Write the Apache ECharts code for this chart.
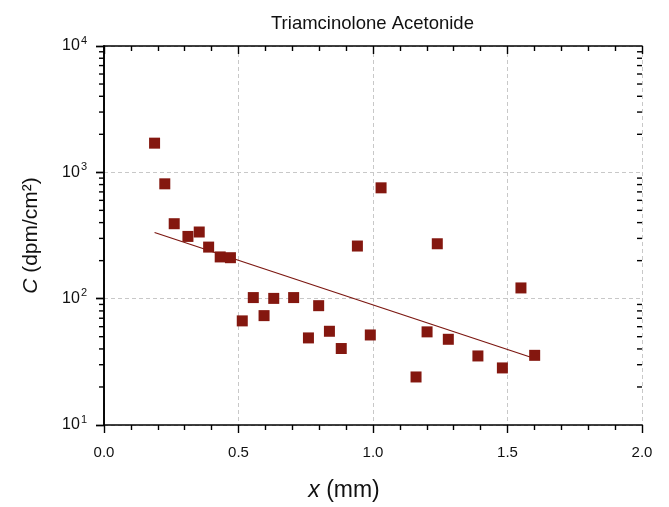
<!DOCTYPE html>
<html>
<head>
<meta charset="utf-8">
<script src="https://cdn.jsdelivr.net/npm/echarts@6/dist/echarts.min.js"></script>
<style>html,body{margin:0;padding:0;background:#fff}#c{width:669px;height:507px}</style>
</head>
<body>
<div id="c"></div>
<script>
// Data
var xVals = [0.188,0.226,0.261,0.312,0.354,0.389,0.432,0.470,0.514,0.555,0.595,0.631,0.705,0.760,0.798,0.838,0.882,0.942,0.990,1.030,1.160,1.201,1.239,1.280,1.390,1.481,1.550,1.601];
var yVals = [1702,811,392,311,337,256,214,211,66.7,102,73.4,100.5,102,48.9,88,55.2,40.3,261,51.6,754,24.0,54.6,272,47.7,35.2,28.3,121.6,35.6];
var fitX = [0.188, 1.601];
var fitY = [334, 33.6];
var xTicks = [0, 0.5, 1.0, 1.5, 2.0];
var yTicks = [10, 100, 1000, 10000];
var yMinor = [20,30,40,50,60,70,80,90,200,300,400,500,600,700,800,900,2000,3000,4000,5000,6000,7000,8000,9000];

var FONT = 'Liberation Sans, Arial, Helvetica, sans-serif';
var pts = xVals.map(function (x, i) { return [x, yVals[i]]; });
var fit = fitX.map(function (x, i) { return [x, fitY[i]]; });

var chart = echarts.init(document.getElementById('c'), null, {renderer: 'canvas'});
var axisLine = {show: true, lineStyle: {color: '#000', width: 1.6}};
var option = {
  animation: false,
  backgroundColor: '#fff',
  title: {
    text: 'Triamcinolone Acetonide',
    left: 266, top: 9,
    textStyle: {fontFamily: FONT, fontSize: 18.5, fontWeight: 'normal', color: '#111'}
  },
  grid: {left: 104, right: 27, top: 46, bottom: 81.5, containLabel: false},
  xAxis: [{
    type: 'value', min: xTicks[0], max: xTicks[xTicks.length - 1], interval: 0.5,
    position: 'bottom',
    axisLine: axisLine,
    axisTick: {show: true, length: 8, inside: false, lineStyle: {color: '#000', width: 1.4}},
    minorTick: {show: true, splitNumber: 5, length: 5, lineStyle: {color: '#000', width: 1.4}},
    splitLine: {show: true, lineStyle: {color: '#c8c8c8', type: [4, 3], width: 1}},
    axisLabel: {margin: 20, fontFamily: FONT, fontSize: 15, color: '#111',
      formatter: function (v) { return v.toFixed(1); }},
    name: '{i|x} (mm)', nameLocation: 'middle', nameGap: 54,
    nameTextStyle: {fontFamily: FONT, fontSize: 23, color: '#111', padding: [0, 58, 0, 0],
      rich: {i: {fontFamily: FONT, fontSize: 23, fontStyle: 'italic', color: '#111'}}}
  }, {
    type: 'value', min: xTicks[0], max: xTicks[xTicks.length - 1], interval: 0.5,
    position: 'top',
    axisLine: axisLine,
    axisTick: {show: true, length: 8, inside: true, lineStyle: {color: '#000', width: 1.4}},
    minorTick: {show: true, splitNumber: 5, length: 5, lineStyle: {color: '#000', width: 1.4}},
    splitLine: {show: false},
    axisLabel: {show: false}
  }],
  yAxis: [{
    type: 'log', logBase: 10, min: yTicks[0], max: yTicks[yTicks.length - 1],
    position: 'left',
    axisLine: axisLine,
    axisTick: {show: true, length: 8, inside: false, lineStyle: {color: '#000', width: 1.4}},
    splitLine: {show: true, lineStyle: {color: '#c8c8c8', type: [4, 3], width: 1}},
    axisLabel: {margin: 17, fontFamily: FONT, color: '#111',
      formatter: function (v) { return '{b|10}{s|' + Math.round(Math.log10(v)) + '}'; },
      rich: {
        b: {fontFamily: FONT, fontSize: 16, color: '#111', lineHeight: 22, verticalAlign: 'middle'},
        s: {fontFamily: FONT, fontSize: 11, color: '#111', lineHeight: 11, verticalAlign: 'top', padding: [0, 0, 0, 1]}
      }},
    name: '{i|C} (dpm/cm²)', nameLocation: 'middle', nameGap: 62, nameRotate: 90,
    nameTextStyle: {fontFamily: FONT, fontSize: 21, color: '#111',
      rich: {i: {fontFamily: FONT, fontSize: 21, fontStyle: 'italic', color: '#111'}}}
  }, {
    type: 'log', logBase: 10, min: yTicks[0], max: yTicks[yTicks.length - 1],
    position: 'right',
    axisLine: axisLine,
    axisTick: {show: true, length: 8, inside: true, lineStyle: {color: '#000', width: 1.4}},
    splitLine: {show: false},
    axisLabel: {show: false}
  }],
  series: [{
    type: 'custom',
    xAxisIndex: 0, yAxisIndex: 0,
    clip: false, silent: true, z: 5,
    data: yMinor.map(function (v) { return [0, v]; }),
    renderItem: function (params, api) {
      var v = api.value(1);
      var l = api.coord([xTicks[0], v]);
      var r = api.coord([xTicks[xTicks.length - 1], v]);
      var st = {stroke: '#000', lineWidth: 1.4};
      return {type: 'group', children: [
        {type: 'line', shape: {x1: l[0] - 5, y1: l[1], x2: l[0], y2: l[1]}, style: st},
        {type: 'line', shape: {x1: r[0] - 5, y1: r[1], x2: r[0], y2: r[1]}, style: st}
      ]};
    }
  }, {
    type: 'line', data: fit, showSymbol: false, symbol: 'none', z: 3,
    lineStyle: {color: '#7c1711', width: 1.3}
  }, {
    type: 'scatter', data: pts, symbol: 'rect', symbolSize: 11, z: 4,
    itemStyle: {color: '#84170f', opacity: 1}
  }]
};
chart.setOption(option);
</script>
</body>
</html>
